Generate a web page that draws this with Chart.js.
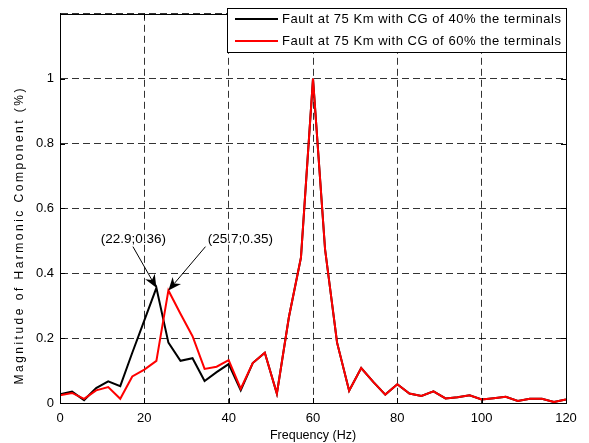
<!DOCTYPE html>
<html><head><meta charset="utf-8">
<script src="https://cdn.jsdelivr.net/npm/chart.js@4/dist/chart.umd.min.js"></script>
<style>html,body{margin:0;padding:0;background:#fff}#wrap{width:589px;height:443px}</style>
</head><body><div id="wrap"><canvas id="c" width="589" height="443"></canvas></div>
<script>
const frequencies = [0,2.86,5.71,8.57,11.43,14.29,17.14,20,22.86,25.71,28.57,31.43,34.29,37.14,40,42.86,45.71,48.57,51.43,54.29,57.14,60,62.86,65.71,68.57,71.43,74.29,77.14,80,82.86,85.71,88.57,91.43,94.29,97.14,100,102.86,105.71,108.57,111.43,114.29,117.14,120];
const cg40 = [0.027,0.035,0.009,0.046,0.067,0.052,0.155,0.255,0.355,0.186,0.130,0.138,0.068,0.095,0.120,0.039,0.123,0.155,0.029,0.265,0.448,1.000,0.474,0.186,0.038,0.108,0.065,0.026,0.058,0.029,0.022,0.036,0.014,0.018,0.024,0.011,0.015,0.019,0.006,0.013,0.013,0.003,0.011];
const cg60 = [0.024,0.031,0.013,0.039,0.049,0.013,0.082,0.103,0.130,0.347,0.275,0.206,0.105,0.112,0.132,0.044,0.123,0.155,0.029,0.265,0.448,1.000,0.474,0.186,0.038,0.108,0.065,0.026,0.058,0.029,0.022,0.036,0.014,0.018,0.024,0.011,0.015,0.019,0.006,0.013,0.013,0.003,0.011];
const seriesNames = ['Fault at 75 Km with CG of 40% the terminals','Fault at 75 Km with CG of 60% the terminals'];
const seriesColors = ['#000000','#ff0000'];
const xTicks = [0,20,40,60,80,100,120];
const yTicks = [0,0.2,0.4,0.6,0.8,1];
const xTitle = 'Frequency (Hz)';
const yTitle = 'Magnitude of Harmonic Component (%)';
const annotationTexts = ['(22.9;0.36)','(25.7;0.35)'];
const annotationTargets = [[0,8],[1,9]]; // [dataset, point index]

const FONT = '"Liberation Sans", Arial, sans-serif';

function spacedText(ctx, text, x, y, targetW){
  // draws text left-aligned from x, spreading characters to fill targetW
  const natural = ctx.measureText(text).width;
  const extra = text.length > 1 ? (targetW - natural) / (text.length - 1) : 0;
  let cx = x;
  for (const ch of text){
    ctx.fillText(ch, cx, y);
    cx += ctx.measureText(ch).width + extra;
  }
}

const framePlugin = {
  id:'frame',
  afterDatasetsDraw(chart){
    const ctx = chart.ctx, a = chart.chartArea, xs = chart.scales.x, ys = chart.scales.y;
    ctx.save();
    // annotations
    const anno = [
      {tx:17.4, ty:0.506, sx:17.3, sy:0.482},
      {tx:42.8, ty:0.506, sx:34.5, sy:0.482}
    ];
    ctx.font = '13.5px ' + FONT;
    ctx.fillStyle = '#000';
    ctx.textAlign = 'center'; ctx.textBaseline = 'middle';
    annotationTexts.forEach((t,i)=>{
      const an = anno[i];
      ctx.fillText(t, xs.getPixelForValue(an.tx), ys.getPixelForValue(an.ty));
      const [d,p] = annotationTargets[i];
      const data = chart.data.datasets[d].data[p];
      const ex = xs.getPixelForValue(data.x), ey = ys.getPixelForValue(data.y);
      const bx = xs.getPixelForValue(an.sx), by = ys.getPixelForValue(an.sy);
      const ang = Math.atan2(ey-by, ex-bx);
      const L = 13, W = 5.5, N = 9;
      const hx = ex - L*Math.cos(ang), hy = ey - L*Math.sin(ang);
      ctx.strokeStyle = '#000'; ctx.lineWidth = 1;
      ctx.beginPath(); ctx.moveTo(bx,by); ctx.lineTo(ex - N*Math.cos(ang), ey - N*Math.sin(ang)); ctx.stroke();
      ctx.beginPath();
      ctx.moveTo(ex,ey);
      ctx.lineTo(hx - W*Math.sin(ang), hy + W*Math.cos(ang));
      ctx.lineTo(ex - N*Math.cos(ang), ey - N*Math.sin(ang));
      ctx.lineTo(hx + W*Math.sin(ang), hy - W*Math.cos(ang));
      ctx.closePath(); ctx.fill();
    });
    // frame
    ctx.strokeStyle = '#000'; ctx.lineWidth = 1;
    ctx.strokeRect(Math.round(a.left)+0.5, Math.round(a.top)+0.5, Math.round(a.right-a.left), Math.round(a.bottom-a.top));
    // inward ticks
    ctx.beginPath();
    xTicks.forEach(v=>{ const x = Math.round(xs.getPixelForValue(v))+0.5;
      ctx.moveTo(x,a.bottom); ctx.lineTo(x,a.bottom-5); ctx.moveTo(x,a.top); ctx.lineTo(x,a.top+5); });
    yTicks.forEach(v=>{ const y = Math.round(ys.getPixelForValue(v))+0.5;
      ctx.moveTo(a.left,y); ctx.lineTo(a.left+5,y); ctx.moveTo(a.right,y); ctx.lineTo(a.right-5,y); });
    ctx.stroke();
    // legend
    const lx0 = 227.5, ly0 = 8.5, lw = Math.round(a.right) - 227, lh = 44;
    ctx.fillStyle = '#fff'; ctx.fillRect(lx0, ly0, lw, lh);
    ctx.strokeRect(lx0, ly0, lw, lh);
    ctx.font = '13px ' + FONT; ctx.textAlign = 'left'; ctx.textBaseline = 'middle';
    seriesNames.forEach((n,i)=>{
      const y = ly0 + 10.5 + i*22;
      ctx.strokeStyle = seriesColors[i]; ctx.lineWidth = 2;
      ctx.beginPath(); ctx.moveTo(235,y); ctx.lineTo(278,y); ctx.stroke();
      ctx.fillStyle = '#000'; spacedText(ctx, n, 282, y, 279);
    });
    // y title (spaced)
    ctx.save();
    ctx.translate(20, 236.5);
    ctx.rotate(-Math.PI/2);
    ctx.font = '12px ' + FONT; ctx.textAlign = 'left'; ctx.textBaseline = 'middle';
    spacedText(ctx, yTitle, -148, 0, 296);
    ctx.restore();
    ctx.restore();
  }
};

const mk = (vals)=>frequencies.map((f,i)=>({x:f,y:vals[i]}));
new Chart(document.getElementById('c'), {
  type:'line',
  data:{datasets:[
    {label:seriesNames[0], data:mk(cg40), borderColor:seriesColors[0], borderWidth:2, pointRadius:0, tension:0, order:2},
    {label:seriesNames[1], data:mk(cg60), borderColor:seriesColors[1], borderWidth:2, pointRadius:0, tension:0, order:1}
  ]},
  options:{
    responsive:false, animation:false, devicePixelRatio:1,
    layout:{padding:{top:7,right:23,left:0,bottom:0}},
    plugins:{legend:{display:false}, tooltip:{enabled:false}},
    scales:{
      x:{type:'linear', min:0, max:120,
        afterFit(s){ s.height = 40; },
        afterBuildTicks(s){ s.ticks = xTicks.map(v=>({value:v})); },
        ticks:{font:{family:FONT,size:13}, color:'#000', padding:8, maxRotation:0},
        grid:{color:'rgba(0,0,0,0.8)', lineWidth:1, drawTicks:false},
        border:{display:true, color:'#000', dash:[7,4]},
        title:{display:true, text:xTitle, font:{family:FONT,size:12.5}, color:'#000', padding:{top:0,bottom:0}}
      },
      y:{min:0, max:1.2,
        afterFit(s){ s.width = 60; },
        afterBuildTicks(s){ s.ticks = yTicks.concat([1.2]).map(v=>({value:v})); },
        ticks:{font:{family:FONT,size:13}, color:'#000', padding:6,
          callback:(v)=> Math.abs(v-1.2)<1e-6 ? '' : String(+(+v).toFixed(1))},
        grid:{color:'rgba(0,0,0,0.8)', lineWidth:1, drawTicks:false},
        border:{display:true, color:'#000', dash:[7,4]},
        title:{display:false}
      }
    }
  },
  plugins:[framePlugin]
});
</script></body></html>
